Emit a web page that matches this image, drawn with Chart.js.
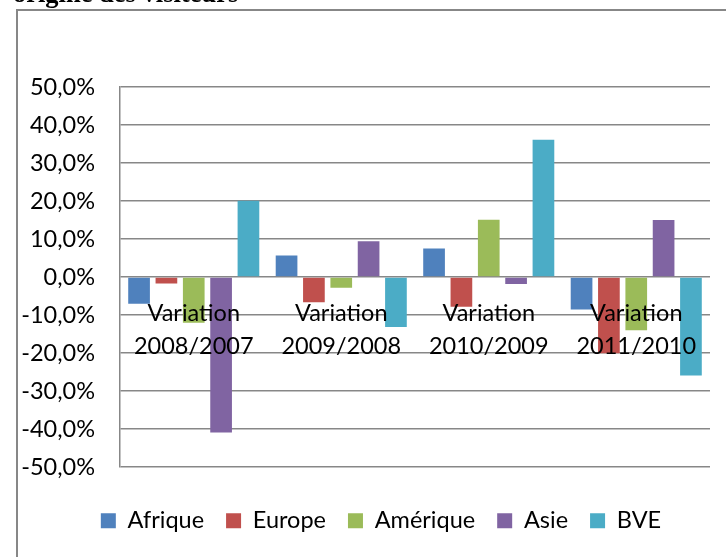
<!DOCTYPE html>
<html><head><meta charset="utf-8">
<script src="https://cdn.jsdelivr.net/npm/chart.js@4"></script>
<style>
html,body{margin:0;padding:0;width:726px;height:557px;overflow:hidden;background:#fff;}
#wrap{position:relative;width:726px;height:557px;overflow:hidden;}
#title{position:absolute;left:13px;top:-20px;font:bold 26.5px "Liberation Serif",serif;line-height:1;white-space:nowrap;color:#000;}
#frame{position:absolute;left:16px;top:9px;width:800px;height:600px;border-left:2px solid #878787;border-top:2px solid #878787;pointer-events:none;}
canvas{position:absolute;left:0;top:0;}
</style></head>
<body>
<div id="wrap">
<canvas id="c" width="726" height="557"></canvas>
<div id="frame"></div>
<div id="title">origine des visiteurs</div>
</div>
<script>
const categories = ['Variation 2008/2007', 'Variation 2009/2008', 'Variation 2010/2009', 'Variation 2011/2010'];
const seriesNames = ['Afrique', 'Europe', 'Amérique', 'Asie', 'BVE'];
const afrique  = [-7.0,  5.7,  7.5,  -8.5];
const europe   = [-1.7, -6.6, -7.8, -20.0];
const amerique = [-12.0, -2.8, 15.1, -14.0];
const asie     = [-40.9,  9.4, -1.8,  15.0];
const bve      = [20.1, -13.1, 36.1, -25.9];
const yTicks = [-50, -40, -30, -20, -10, 0, 10, 20, 30, 40, 50];
const colors = ['#4F81BD', '#C0504D', '#9BBB59', '#8064A2', '#4BACC6'];

const FONT = 'Lato';
const FS = 23.5;

const seriesValues = [afrique, europe, amerique, asie, bve];
const datasets = seriesNames.map((n, i) => ({
  label: n,
  data: seriesValues[i],
  backgroundColor: colors[i],
  borderWidth: 0,
  xAxisID: 'x',
  yAxisID: 'y',
  categoryPercentage: 0.927,
  barPercentage: 0.793
}));

const legendShift = {
  id: 'legendShift',
  afterLayout(chart) {
    if (chart.legend) { chart.legend.left += 52; }
  }
};

new Chart(document.getElementById('c'), {
  type: 'bar',
  data: { labels: categories, datasets },
  plugins: [legendShift],
  options: {
    responsive: false,
    animation: false,
    devicePixelRatio: 1,
    layout: { padding: { left: 0, right: 16, top: 87, bottom: 14.5 } },
    plugins: {
      title: { display: false },
      tooltip: { enabled: false },
      legend: {
        position: 'bottom',
        labels: {
          boxWidth: 15, boxHeight: 15, padding: 22,
          color: '#000',
          font: { family: FONT, size: FS }
        }
      }
    },
    scales: {
      x: {
        type: 'category',
        position: { y: 0 },
        grid: { display: false, drawTicks: false },
        border: { display: false },
        ticks: {
          z: 1,
          color: '#000',
          font: { family: FONT, size: FS, lineHeight: 1.4 },
          padding: 20,
          maxRotation: 0,
          autoSkip: false,
          callback: function (v) { return this.getLabelForValue(v).split(' '); }
        }
      },
      pad: {
        type: 'linear',
        position: 'bottom',
        display: true,
        grid: { display: false, drawTicks: false },
        border: { display: false },
        ticks: { display: false },
        afterFit: s => { s.height = 19.8; }
      },
      y: {
        type: 'linear',
        min: -50, max: 50,
        afterBuildTicks: s => { s.ticks = yTicks.map(v => ({ value: v })); },
        afterFit: s => { s.width = 120; },
        grid: { color: '#878787', lineWidth: 1.5, drawTicks: false },
        border: { display: true, color: '#878787', width: 1.5 },
        ticks: {
          color: '#000',
          padding: 25,
          font: { family: FONT, size: FS },
          callback: v => v.toFixed(1).replace('.', ',') + '%'
        }
      }
    }
  }
});
</script>
</body></html>
